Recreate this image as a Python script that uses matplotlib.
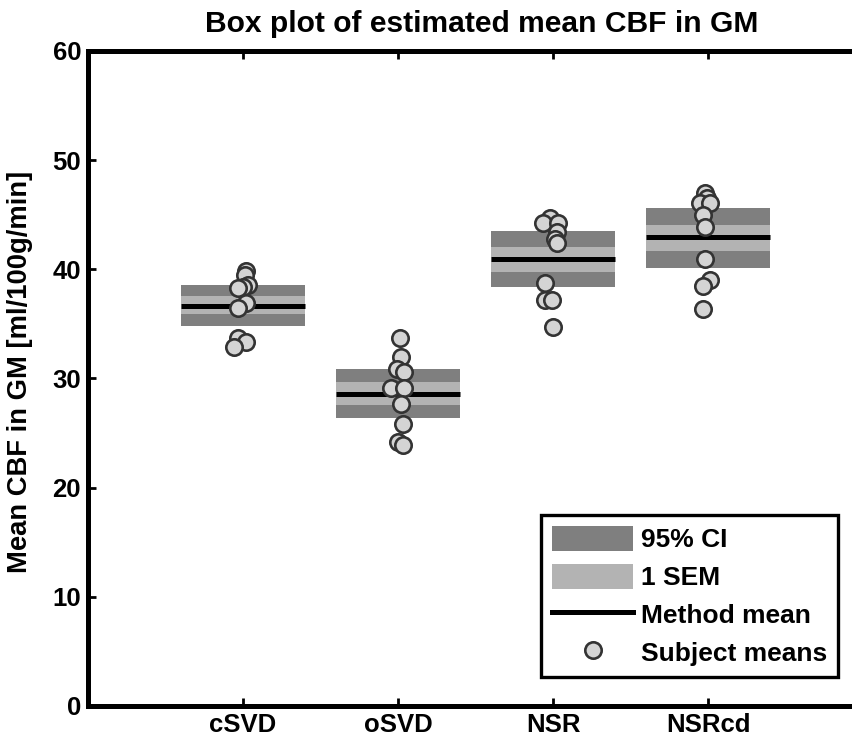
import numpy as np
import matplotlib
matplotlib.use("Agg")
import matplotlib.pyplot as plt
from matplotlib.patches import Patch
from matplotlib.lines import Line2D

plt.rcParams['font.family'] = ['Liberation Sans', 'DejaVu Sans']
plt.rcParams['font.weight'] = 'bold'

# ---- data ----
methods = ['cSVD', 'oSVD', 'NSR', 'NSRcd']
method_means = [36.65, 28.62, 40.9, 42.92]
ci_low = [34.8, 26.35, 38.35, 40.15]
ci_high = [38.55, 30.9, 43.5, 45.65]
sem_low = [35.87, 27.56, 39.77, 41.67]
sem_high = [37.55, 29.7, 42.06, 44.1]

subj_cSVD = [39.86, 39.47, 38.55, 38.4, 38.25, 36.87, 36.42, 33.67, 33.36, 32.9]
subj_oSVD = [33.67, 31.99, 30.9, 30.6, 29.15, 29.15, 27.7, 25.82, 24.2, 23.9]
subj_NSR = [44.66, 44.2, 44.2, 43.44, 42.82, 42.37, 38.7, 37.18, 37.18, 34.74]
subj_NSRcd = [46.95, 46.5, 46.03, 46.03, 44.96, 43.9, 40.9, 39.0, 38.46, 36.4]

# horizontal jitter of subject markers (position offsets)
jit_cSVD = [0.02, 0.01, 0.03, 0.0, -0.03, 0.02, -0.03, -0.03, 0.02, -0.06]
jit_oSVD = [0.01, 0.02, -0.005, 0.04, -0.045, 0.04, 0.02, 0.03, 0.0, 0.03]
jit_NSR = [-0.02, -0.065, 0.03, 0.025, 0.01, 0.025, -0.05, -0.05, -0.005, 0.0]
jit_NSRcd = [-0.02, -0.01, -0.05, 0.01, -0.03, -0.02, -0.02, 0.01, -0.03, -0.03]

subjects = [subj_cSVD, subj_oSVD, subj_NSR, subj_NSRcd]
jitters = [jit_cSVD, jit_oSVD, jit_NSR, jit_NSRcd]

DARK = '#7f7f7f'
LIGHT = '#b3b3b3'
FACE = '#d4d4d4'
EDGE = '#333333'
MS = 11.8
MEW = 1.9

fig = plt.figure(figsize=(8.53, 7.44), dpi=100)
ax = fig.add_axes([0.1032, 0.0511, 0.9086, 0.8804])

x = np.arange(1, len(methods) + 1)
w = 0.8
ci_low_a = np.array(ci_low); ci_high_a = np.array(ci_high)
sem_low_a = np.array(sem_low); sem_high_a = np.array(sem_high)

ax.bar(x, ci_high_a - ci_low_a, bottom=ci_low_a, width=w, color=DARK, linewidth=0, zorder=2)
ax.bar(x, sem_high_a - sem_low_a, bottom=sem_low_a, width=w, color=LIGHT, linewidth=0, zorder=3)
ax.hlines(method_means, x - w / 2, x + w / 2, colors='black', linewidth=3.6, zorder=4)

for xi, vals, jit in zip(x, subjects, jitters):
    ax.plot(xi + np.array(jit), vals, linestyle='none', marker='o', markersize=MS,
            markerfacecolor=FACE, markeredgecolor=EDGE, markeredgewidth=MEW, zorder=5)

ax.set_xlim(0, 5)
ax.set_ylim(0, 60)
ax.set_xticks(x)
ax.set_xticklabels(methods)
ax.set_yticks(np.arange(0, 61, 10))

for s in ax.spines.values():
    s.set_linewidth(3.6)
ax.tick_params(direction='in', length=6, width=2, top=True, right=True,
               labelsize=18.5, pad=5)

ax.set_title('Box plot of estimated mean CBF in GM', fontsize=21.6, fontweight='bold',
             pad=14, x=0.508)
ax.set_ylabel('Mean CBF in GM [ml/100g/min]', fontsize=19.7, fontweight='bold')
ax.yaxis.set_label_coords(-0.071, 0.51)

handles = [Patch(facecolor=DARK, edgecolor='none'),
           Patch(facecolor=LIGHT, edgecolor='none'),
           Line2D([], [], color='black', linewidth=3.6),
           Line2D([], [], linestyle='none', marker='o', markersize=MS,
                  markerfacecolor=FACE, markeredgecolor=EDGE, markeredgewidth=MEW)]
labels = ['95% CI', '1 SEM', 'Method mean', 'Subject means']
leg = ax.legend(handles, labels, loc='lower right', bbox_to_anchor=(0.968, 0.044),
                borderaxespad=0, fancybox=False, framealpha=1, edgecolor='black',
                prop={'size': 19, 'weight': 'bold'}, handlelength=3.07, handleheight=1.06,
                labelspacing=0.44, handletextpad=0.3, borderpad=0.42)
leg.get_frame().set_linewidth(2.4)

fig.savefig('out.png', dpi=100)
